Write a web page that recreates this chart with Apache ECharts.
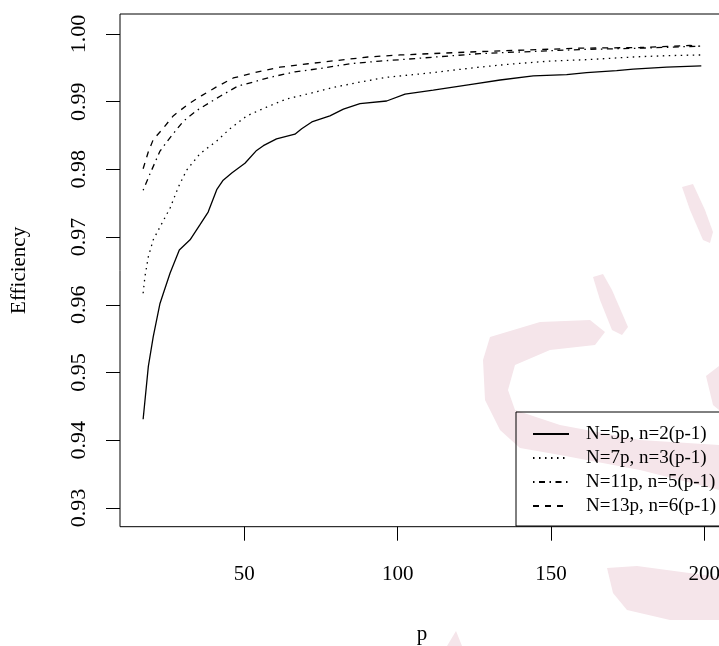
<!DOCTYPE html>
<html>
<head>
<meta charset="utf-8">
<style>html,body{margin:0;padding:0;background:#fff;}#c{width:719px;height:646px;}</style>
<script src="https://cdn.jsdelivr.net/npm/echarts@6/dist/echarts.min.js"></script>
</head>
<body>
<div id="c"></div>
<script>
// ---- data ----
const seriesNames = ['N=5p, n=2(p-1)', 'N=7p, n=3(p-1)', 'N=11p, n=5(p-1)', 'N=13p, n=6(p-1)'];

const p1 = [17,18.7,20.3,22.5,23.6,25.8,28.8,32.3,35.5,38.2,41,43.1,46,50.2,54,56.2,60.5,66.5,68.7,72,77.9,82.3,87.7,96.4,102.4,111.6,124.6,133.4,144.2,155.1,161.6,171.4,176.8,187.7,199];
const v1 = [0.9431,0.9509,0.9553,0.9602,0.9617,0.9647,0.9681,0.9696,0.9718,0.9737,0.9770,0.9784,0.9795,0.9809,0.9828,0.9835,0.9845,0.9852,0.9860,0.9870,0.9879,0.9889,0.9897,0.9901,0.9911,0.9917,0.9926,0.9932,0.9938,0.9940,0.9943,0.9946,0.9948,0.9951,0.9953];

const p2 = [17,17.6,18.7,20.3,22.5,25.8,28.5,31.2,35.5,41,45.3,50.8,57.3,63.8,70.3,79,87.7,96.4,107.3,111.6,124.6,135.5,149.7,161.6,176.8,187.7,199];
const v2 = [0.9617,0.9642,0.9671,0.9696,0.9715,0.9743,0.9774,0.9799,0.9823,0.9842,0.9860,0.9879,0.9892,0.9904,0.9911,0.9921,0.9929,0.9936,0.9941,0.9943,0.9950,0.9955,0.9960,0.9962,0.9966,0.9968,0.9969];

const p3 = [17,19.2,22.5,25.8,30.1,34.5,38.8,42.1,47.9,52.9,58.4,66.5,74.7,84.4,94.2,100.8,126.8,159.4,179,198.6];
const v3 = [0.9769,0.9793,0.9827,0.9847,0.9871,0.9887,0.9899,0.9908,0.9923,0.9929,0.9936,0.9944,0.9949,0.9956,0.9960,0.9962,0.9971,0.9977,0.9979,0.9982];

const p4 = [17,18.7,20.3,23.6,26.8,31.6,36.1,41,46.4,54.4,61.6,70.8,80.5,90.3,100.8,126.8,159.4,179,195.3,198.6];
const v4 = [0.9801,0.9826,0.9844,0.9861,0.9879,0.9896,0.9909,0.9922,0.9935,0.9944,0.9951,0.9956,0.9961,0.9966,0.9969,0.9974,0.9979,0.9980,0.9983,0.9982];

const xTicks = [50, 100, 150, 200];
const yTicks = [0.93, 0.94, 0.95, 0.96, 0.97, 0.98, 0.99, 1.00];

// ---- chart ----
const FONT = 'Liberation Serif';
const zip = (a, b) => a.map((x, i) => [x, b[i]]);
const dashes = ['solid', [1.5, 4.5], [1.5, 4.5, 6, 4.5], [6, 6]];
const pData = [p1, p2, p3, p4];
const vData = [v1, v2, v3, v4];

const pink = '#f5e5ea';
const shapes = [
  [[490,337],[540,322],[590,320],[605,332],[595,345],[550,350],[515,365],[508,390],[515,410],[560,425],[640,440],[719,445],[719,490],[640,470],[560,455],[520,448],[500,430],[485,400],[483,360]],
  [[593,277],[603,274],[612,290],[628,327],[622,335],[612,330],[600,300]],
  [[682,187],[693,184],[705,210],[713,232],[710,243],[703,240],[690,210]],
  [[706,376],[719,366],[719,410],[713,405]],
  [[607,568],[637,566],[719,577],[719,620],[670,620],[627,610],[613,593]],
  [[447,646],[456,631],[462,646]]
];

const chart = echarts.init(document.getElementById('c'), null, {renderer: 'canvas'});
chart.setOption({
  animation: false,
  backgroundColor: '#fff',
  graphic: shapes.map(s => ({type: 'polygon', z: -10, silent: true, shape: {points: s}, style: {fill: pink}})),
  grid: {left: 120, right: -5, top: 14, bottom: 119.3, show: true, borderColor: '#000', borderWidth: 1,
    backgroundColor: 'transparent', containLabel: false, outerBoundsMode: 'none'},
  xAxis: {
    type: 'value', min: 9.46, max: 206.4,
    name: 'p', nameLocation: 'middle', nameGap: 97,
    nameTextStyle: {fontFamily: FONT, fontSize: 21, color: '#000'},
    axisLine: {show: false},
    splitLine: {show: false},
    axisTick: {show: true, inside: false, length: 14, lineStyle: {color: '#000', width: 1}, customValues: xTicks},
    axisLabel: {customValues: xTicks, margin: 37, fontFamily: FONT, fontSize: 21, color: '#000'}
  },
  yAxis: {
    type: 'value', min: 0.92722, max: 1.00295,
    name: 'Efficiency', nameLocation: 'middle', nameGap: 90, nameRotate: 90,
    nameTextStyle: {fontFamily: FONT, fontSize: 21, color: '#000'},
    axisLine: {show: false},
    splitLine: {show: false},
    axisTick: {show: true, inside: false, length: 14, lineStyle: {color: '#000', width: 1}, customValues: yTicks},
    axisLabel: {customValues: yTicks, rotate: 90, margin: 30, fontFamily: FONT, fontSize: 22, color: '#000',
      formatter: v => v.toFixed(2)}
  },
  legend: {
    orient: 'vertical', left: 516, top: 412,
    padding: [12, 40, 10, 16],
    itemWidth: 36, itemHeight: 20, itemGap: 4,
    borderColor: '#000', borderWidth: 1, borderRadius: 0,
    backgroundColor: 'transparent',
    itemStyle: {opacity: 0, color: 'transparent', borderWidth: 0},
    textStyle: {fontFamily: FONT, fontSize: 19, color: '#000', lineHeight: 20, padding: [0, 0, 0, 12]},
    data: seriesNames
  },
  series: seriesNames.map((n, i) => ({
    name: n, type: 'line', symbol: 'none', showSymbol: false, smooth: false,
    data: zip(pData[i], vData[i]),
    color: '#000',
    lineStyle: {color: '#000', width: 1.3, type: dashes[i]}
  }))
});
</script>
</body>
</html>
